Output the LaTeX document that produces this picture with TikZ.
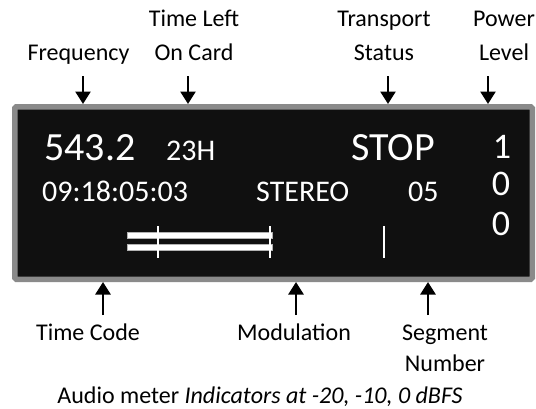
\documentclass[tikz,border=0pt]{standalone}
\usepackage{fontspec}
\setmainfont{Carlito}
\usetikzlibrary{arrows.meta}
\definecolor{panel}{HTML}{101010}
\definecolor{rim}{HTML}{8A8A8A}
\tikzset{
  lbl/.style={font=\fontsize{24}{34}\selectfont, align=center, anchor=base, inner sep=0pt},
  lblb/.style={font=\fontsize{24}{31}\selectfont, align=center, anchor=base, inner sep=0pt},
  big/.style={font=\fontsize{40}{40}\selectfont, text=white, anchor=base west, inner sep=0pt},
  mid/.style={font=\fontsize{30}{30}\selectfont, text=white, anchor=base west, inner sep=0pt},
  pwr/.style={font=\fontsize{36}{36}\selectfont, text=white, anchor=base, inner sep=0pt},
  ptr/.style={line width=2.6pt, -{Triangle[width=15pt,length=12.5pt]}},
  bar/.style={fill=white, draw=gray!60, line width=0.6pt},
  tick/.style={draw=white, line width=2pt},
}
\begin{document}
\begin{tikzpicture}[x=1pt,y=-1pt]
\useasboundingbox (0,0) rectangle (536,408);
% display panel
\node[draw=rim, fill=panel, line width=5.5pt, rounded corners=1.5pt,
      minimum width=517.5pt, minimum height=172.5pt, inner sep=0pt] (disp) at (273.5,193) {};
% readouts
\node[big] (freq) at (44,160) {543.2};
\node[mid] (left) at (166,160) {23H};
\node[big] (stop) at (351,160) {STOP};
\node[pwr] (p1) at (502,158) {1};
\node[pwr] (p2) at (501,195) {0};
\node[pwr] (p3) at (501,235) {0};
\node[mid] (tc) at (42,201) {09:18:05:03};
\node[mid] (mod) at (256,201) {STEREO};
\node[mid] (seg) at (408,201) {05};
% audio meter
\draw[bar] (127,232.5) rectangle (272,238.5);
\draw[bar] (127,244) rectangle (272,250);
\coordinate (t1a) at (158,226); \coordinate (t1b) at (158,258);
\coordinate (t2a) at (270,226); \coordinate (t2b) at (270,258);
\coordinate (t3a) at (383.5,226); \coordinate (t3b) at (383.5,258);
\draw[tick] (t1a) -- (t1b);
\draw[tick] (t2a) -- (t2b);
\draw[tick] (t3a) -- (t3b);
% top labels
\node[lbl] (lfreq) at (78.5,60) {Frequency};
\node[lbl] (lleft) at (194,60) {Time Left\\On Card};
\node[lbl] (ltrans) at (384,60) {Transport\\Status};
\node[lbl] (lpow) at (504,60) {Power\\Level};
\coordinate (afreq) at (83,76);
\coordinate (aleft) at (188,76);
\coordinate (atrans) at (388,76);
\coordinate (apow) at (488,76);
\draw[ptr] (afreq) -- (afreq |- disp.north);
\draw[ptr] (aleft) -- (aleft |- disp.north);
\draw[ptr] (atrans) -- (atrans |- disp.north);
\draw[ptr] (apow) -- (apow |- disp.north);
% bottom labels
\node[lblb] (ltc) at (88,340) {Time Code};
\node[lblb] (lmod) at (294,340) {Modulation};
\node[lblb] (lseg) at (445,371) {Segment\\Number};
\node[lblb] (lmeter) at (260,403) {Audio meter \textit{Indicators at -20, -10, 0 dBFS}};
\coordinate (btc) at (103,315);
\coordinate (bmod) at (296,315);
\coordinate (bseg) at (428,315);
\draw[ptr] (btc) -- (btc |- disp.south);
\draw[ptr] (bmod) -- (bmod |- disp.south);
\draw[ptr] (bseg) -- (bseg |- disp.south);
\end{tikzpicture}
\end{document}
